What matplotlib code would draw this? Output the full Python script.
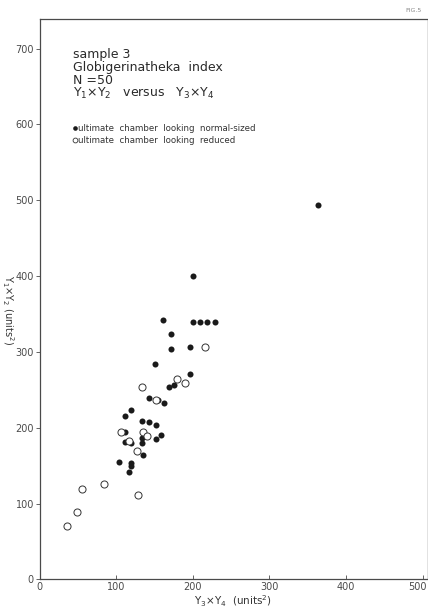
"""Globigerinatheka index, sample 3: Y1*Y2 versus Y3*Y4 (fig 5)"""
import matplotlib
matplotlib.use("Agg")
import matplotlib.pyplot as plt
import matplotlib.transforms as mtrans

# ultimate chamber looking normal-sized (filled dots)
normal_x = [363, 200, 161, 200, 209, 219, 229, 171, 171, 197, 151, 197, 169, 175,
            143, 155, 162, 119, 111, 134, 143, 152, 112, 136, 159, 152, 111, 119,
            134, 134, 135, 104, 120, 119, 117]
normal_y = [494, 400, 342, 340, 340, 340, 340, 323, 304, 306, 284, 271, 254, 256,
            239, 237, 233, 224, 215, 209, 207, 204, 194, 190, 191, 185, 181, 180,
            180, 186, 164, 155, 154, 150, 142]

# ultimate chamber looking reduced (open circles)
reduced_x = [216, 179, 190, 134, 152, 106, 135, 140, 117, 127, 84, 128, 55, 49, 36]
reduced_y = [307, 264, 259, 254, 237, 194, 194, 189, 183, 169, 126, 111, 119, 89, 71]

x_ticks = [0, 100, 200, 300, 400, 500]
y_ticks = [0, 100, 200, 300, 400, 500, 600, 700]

grey = "#4a4a4a"
plt.rcParams['font.family'] = ['DejaVu Sans']

fig = plt.figure(figsize=(4.28, 6.08), dpi=100)
ax = fig.add_axes([0.0923, 0.0469, 0.9057, 0.9219])

ax.scatter(normal_x, normal_y, s=19, color="#1a1a1a", linewidths=0, zorder=3)
ax.scatter(reduced_x, reduced_y, s=26, facecolors="white", edgecolors="#333333",
           linewidths=0.7, zorder=4)

ax.set_xlim(0, 506)
ax.set_ylim(0, 739)
ax.set_xticks(x_ticks)
ax.set_yticks(y_ticks)
ax.tick_params(axis="y", direction="out", length=3, width=0.6, colors=grey,
               labelsize=7, pad=1)
ax.tick_params(axis="x", direction="in", length=3, width=0.6, colors=grey,
               labelsize=7, pad=2)
for side in ["left", "bottom", "top"]:
    ax.spines[side].set_color(grey)
    ax.spines[side].set_linewidth(0.9)
ax.spines["right"].set_color("#dddddd")
ax.spines["right"].set_linewidth(0.6)

# last x label sits at the right edge, nudge it so it stays inside
last = ax.get_xticklabels()[-1]
last.set_transform(last.get_transform() +
                   mtrans.ScaledTranslation(-0.05, 0, fig.dpi_scale_trans))

ax.set_xlabel(r"Y$_3$$\times$Y$_4$  (units$^2$)", fontsize=7.5, color="#333333",
              labelpad=1)
ax.text(-0.082, 0.48, r"Y$_1$$\times$Y$_2$ (units$^2$)", transform=ax.transAxes,
        rotation=270, fontsize=7, color="#333333", ha="center", va="center")

# text block
lines = ["sample 3", "Globigerinatheka  index", "N =50",
         r"Y$_1$$\times$Y$_2$   versus   Y$_3$$\times$Y$_4$"]
for i, line in enumerate(lines):
    ax.text(44, 692 - i * 17, line, fontsize=9, color="#2a2a2a", va="center")

# legend as drawn in the original
ax.scatter([46], [595], s=11, color="#1a1a1a", linewidths=0)
ax.scatter([46], [579], s=12, facecolors="white", edgecolors="#333333", linewidths=0.6)
ax.text(50, 595, "ultimate  chamber  looking  normal-sized", fontsize=6.2,
        color="#333333", va="center")
ax.text(50, 579, "ultimate  chamber  looking  reduced", fontsize=6.2,
        color="#333333", va="center")

fig.text(0.985, 0.982, "FIG.5", fontsize=4.5, color="#888888", ha="right", va="center")

fig.savefig("out.png", dpi=100)
